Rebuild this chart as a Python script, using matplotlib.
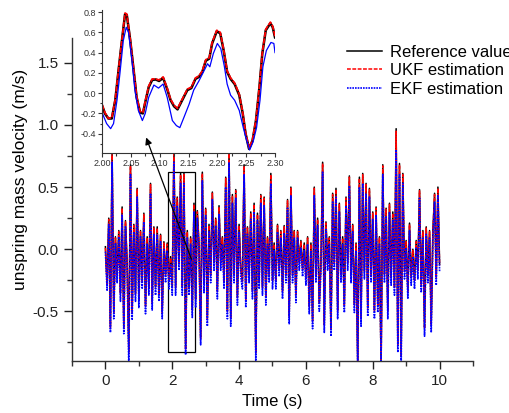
import numpy as np
import matplotlib
matplotlib.use("Agg")
import matplotlib.pyplot as plt
from matplotlib.patches import Rectangle, FancyArrowPatch
from matplotlib.ticker import MultipleLocator, FormatStrFormatter

plt.rcParams['font.family'] = ['Liberation Sans', 'DejaVu Sans']
plt.rcParams['axes.unicode_minus'] = False

# ---- main series (sampled every 0.05 s from 0 to 10 s) ----
ref = [
    0.02, -0.28, 0.25, -0.62, 0.79, -0.50, 0.10, -0.20, 0.15, -0.35,
    0.34, -0.62, 0.23, -0.10, -0.82, 0.68, -0.50, 0.20, -0.35, 0.49,
    -0.40, 0.15, -0.25, 0.29, -0.45, 0.10, -0.30, 0.53, -0.42, 0.18,
    -0.30, 0.18, -0.35, 0.12, -0.50, 0.06, -0.20, 0.05, -0.25, -0.06,
    -0.30, 0.80, -0.30, 0.42, -0.10, 0.61, -0.30, 0.61, -0.80, 0.15,
    -0.30, 0.10, -0.48, 0.37, -0.40, 0.31, 0.05, -0.71, 0.62, -0.28,
    0.33, -0.55, 0.20, -0.20, 0.46, -0.10, 0.25, -0.33, 0.35, -0.10,
    0.10, -0.25, 0.58, -0.49, 0.80, -0.55, 0.44, -0.20, 0.48, -0.38,
    0.20, -0.15, -0.25, 0.68, -0.40, 0.18, -0.20, 0.30, -0.33, 0.37,
    -0.83, 0.29, -0.25, 0.44, -0.30, 0.42, -0.38, 0.10, -0.20, 0.61,
    -0.25, 0.05, -0.25, 0.20, -0.15, 0.15, -0.33, 0.19, -0.20, 0.40,
    -0.53, 0.50, -0.20, 0.15, -0.36, 0.15, -0.10, 0.07, -0.15, 0.05,
    -0.22, 0.10, -0.45, 0.05, -0.57, 0.50, -0.20, 0.25, -0.43, -0.10,
    0.70, -0.60, 0.22, -0.10, 0.10, -0.63, 0.45, -0.10, 0.49, -0.49,
    0.37, -0.20, 0.10, -0.44, 0.42, -0.10, 0.59, -0.20, 0.20, -0.44,
    0.05, -0.90, 0.58, -0.55, 0.61, -0.17, 0.53, -0.47, 0.49, -0.20,
    0.30, -0.49, 0.34, -0.44, 0.10, -0.95, 0.68, -0.20, 0.33, -0.49,
    0.37, -0.22, 0.30, -0.30, 0.97, -0.76, 0.69, -0.85, 0.61, -0.17,
    0.07, -0.33, 0.21, -0.22, 0.00, -0.25, 0.07, -0.17, 0.48, -0.28,
    0.15, -0.63, 0.18, -0.20, 0.15, -0.60, 0.15, 0.45, -0.22, 0.50,
    -0.12]

ukf = [
    0.01, -0.29, 0.24, -0.63, 0.78, -0.51, 0.09, -0.21, 0.14, -0.36,
    0.33, -0.63, 0.22, -0.11, -0.84, 0.67, -0.51, 0.19, -0.36, 0.48,
    -0.41, 0.14, -0.26, 0.28, -0.46, 0.09, -0.31, 0.52, -0.43, 0.17,
    -0.31, 0.17, -0.36, 0.11, -0.51, 0.05, -0.21, 0.04, -0.26, -0.07,
    -0.31, 0.79, -0.31, 0.41, -0.11, 0.60, -0.31, 0.60, -0.81, 0.14,
    -0.31, 0.09, -0.49, 0.36, -0.41, 0.30, 0.04, -0.72, 0.61, -0.29,
    0.32, -0.56, 0.19, -0.21, 0.45, -0.11, 0.24, -0.34, 0.34, -0.11,
    0.09, -0.26, 0.57, -0.50, 0.79, -0.56, 0.43, -0.21, 0.47, -0.39,
    0.19, -0.16, -0.26, 0.67, -0.41, 0.17, -0.21, 0.29, -0.34, 0.36,
    -0.84, 0.28, -0.26, 0.43, -0.31, 0.41, -0.39, 0.09, -0.21, 0.60,
    -0.26, 0.04, -0.26, 0.19, -0.16, 0.14, -0.34, 0.18, -0.21, 0.39,
    -0.54, 0.49, -0.21, 0.14, -0.37, 0.14, -0.11, 0.06, -0.16, 0.04,
    -0.23, 0.09, -0.46, 0.04, -0.58, 0.49, -0.21, 0.24, -0.44, -0.11,
    0.69, -0.61, 0.21, -0.11, 0.09, -0.64, 0.44, -0.11, 0.48, -0.50,
    0.36, -0.21, 0.09, -0.45, 0.41, -0.11, 0.58, -0.21, 0.19, -0.45,
    0.04, -0.91, 0.57, -0.56, 0.60, -0.18, 0.52, -0.48, 0.48, -0.21,
    0.29, -0.50, 0.33, -0.45, 0.09, -0.96, 0.67, -0.21, 0.32, -0.50,
    0.36, -0.23, 0.29, -0.31, 0.95, -0.77, 0.68, -0.86, 0.60, -0.18,
    0.06, -0.34, 0.20, -0.23, -0.01, -0.26, 0.06, -0.18, 0.47, -0.29,
    0.14, -0.64, 0.17, -0.21, 0.14, -0.61, 0.14, 0.44, -0.23, 0.49,
    -0.13]

ekf = [
    -0.02, -0.33, 0.20, -0.67, 0.70, -0.56, 0.05, -0.27, 0.10, -0.42,
    0.28, -0.68, 0.18, -0.17, -0.95, 0.60, -0.57, 0.14, -0.42, 0.42,
    -0.47, 0.10, -0.32, 0.22, -0.52, 0.04, -0.37, 0.45, -0.49, 0.12,
    -0.37, 0.12, -0.42, 0.06, -0.56, 0.00, -0.27, -0.01, -0.32, -0.12,
    -0.37, 0.70, -0.37, 0.35, -0.17, 0.53, -0.37, 0.53, -0.85, 0.09,
    -0.37, 0.04, -0.55, 0.30, -0.47, 0.25, -0.01, -0.77, 0.55, -0.35,
    0.27, -0.62, 0.14, -0.27, 0.40, -0.17, 0.19, -0.40, 0.28, -0.17,
    0.04, -0.32, 0.50, -0.56, 0.70, -0.62, 0.37, -0.27, 0.41, -0.45,
    0.14, -0.22, -0.32, 0.60, -0.47, 0.12, -0.27, 0.24, -0.40, 0.30,
    -0.90, 0.23, -0.32, 0.37, -0.37, 0.35, -0.45, 0.04, -0.27, 0.53,
    -0.32, -0.01, -0.32, 0.14, -0.22, 0.09, -0.40, 0.13, -0.27, 0.33,
    -0.60, 0.43, -0.27, 0.09, -0.43, 0.09, -0.17, 0.01, -0.22, -0.01,
    -0.29, 0.04, -0.52, -0.01, -0.64, 0.43, -0.27, 0.19, -0.50, -0.17,
    0.62, -0.67, 0.16, -0.17, 0.04, -0.70, 0.38, -0.17, 0.42, -0.56,
    0.30, -0.27, 0.04, -0.51, 0.35, -0.17, 0.51, -0.27, 0.14, -0.51,
    -0.01, -0.97, 0.50, -0.62, 0.53, -0.24, 0.45, -0.54, 0.42, -0.27,
    0.24, -0.56, 0.27, -0.51, 0.04, -0.90, 0.60, -0.27, 0.26, -0.56,
    0.30, -0.29, 0.24, -0.37, 0.80, -0.83, 0.60, -0.97, 0.53, -0.24,
    0.01, -0.40, 0.15, -0.29, -0.06, -0.32, 0.01, -0.24, 0.41, -0.35,
    0.09, -0.70, 0.12, -0.27, 0.09, -0.67, 0.09, 0.38, -0.29, 0.43,
    -0.18]

# ---- inset (zoom 2.00 - 2.30 s) ----
ins_t_ref = [2.000, 2.005, 2.011, 2.017, 2.023, 2.028, 2.034, 2.040, 2.043, 2.049,
             2.055, 2.060, 2.066, 2.071, 2.075, 2.081, 2.087, 2.093, 2.099, 2.106,
             2.113, 2.119, 2.125, 2.131, 2.139, 2.148, 2.155, 2.162, 2.168, 2.174,
             2.180, 2.186, 2.191, 2.199, 2.205, 2.211, 2.217, 2.223, 2.230, 2.238,
             2.244, 2.249, 2.255, 2.261, 2.267, 2.273, 2.278, 2.284, 2.292, 2.296,
             2.300]
ins_ref = [-0.12, -0.20, -0.25, -0.25, -0.07, 0.19, 0.49, 0.78, 0.77, 0.52,
           0.22, -0.04, -0.19, -0.20, -0.09, 0.06, 0.13, 0.135, 0.12, 0.15,
           0.04, -0.07, -0.13, -0.16, -0.07, 0.03, 0.05, 0.14, 0.16, 0.21,
           0.32, 0.34, 0.49, 0.61, 0.59, 0.42, 0.21, 0.14, 0.09, -0.02,
           -0.20, -0.40, -0.55, -0.47, -0.27, 0.06, 0.39, 0.62, 0.69, 0.65,
           0.55]
ins_ukf = [-0.11, -0.19, -0.25, -0.24, -0.06, 0.20, 0.50, 0.79, 0.78, 0.53,
           0.23, -0.03, -0.18, -0.19, -0.08, 0.07, 0.14, 0.14, 0.13, 0.16,
           0.05, -0.06, -0.12, -0.15, -0.06, 0.04, 0.06, 0.15, 0.17, 0.22,
           0.33, 0.35, 0.50, 0.62, 0.60, 0.43, 0.22, 0.15, 0.10, -0.01,
           -0.19, -0.39, -0.54, -0.46, -0.26, 0.07, 0.40, 0.63, 0.70, 0.66,
           0.56]
ins_t_ekf = [2.000, 2.008, 2.015, 2.020, 2.026, 2.031, 2.037, 2.042, 2.046, 2.052,
             2.057, 2.063, 2.070, 2.075, 2.081, 2.090, 2.098, 2.106, 2.113, 2.122,
             2.129, 2.135, 2.142, 2.151, 2.159, 2.168, 2.176, 2.183, 2.187, 2.193,
             2.200, 2.206, 2.212, 2.217, 2.223, 2.230, 2.238, 2.245, 2.251, 2.256,
             2.262, 2.268, 2.274, 2.279, 2.285, 2.293, 2.298, 2.300]
ins_ekf = [-0.19, -0.30, -0.35, -0.30, -0.07, 0.19, 0.52, 0.65, 0.60, 0.32,
           0.03, -0.17, -0.27, -0.20, -0.04, 0.08, 0.05, 0.09, -0.04, -0.27,
           -0.32, -0.34, -0.24, -0.11, 0.03, 0.12, 0.21, 0.29, 0.26, 0.39,
           0.49, 0.44, 0.27, 0.09, -0.02, -0.07, -0.17, -0.34, -0.47, -0.56,
           -0.48, -0.34, -0.07, 0.26, 0.42, 0.50, 0.49, 0.40]

labels = ["Reference value", "UKF estimation", "EKF estimation"]

W, H = 510, 413
fig = plt.figure(figsize=(W / 100, H / 100), dpi=100)

ax = fig.add_axes([72 / W, 1 - 361 / H, (473 - 72) / W, (361 - 38) / H])
t_ref = np.linspace(0, 10, len(ref))
t_ukf = np.linspace(0, 10, len(ukf))
t_ekf = np.linspace(0, 10, len(ekf))
l1, = ax.plot(t_ref, ref, color='black', lw=1.1, ls='-')
l2, = ax.plot(t_ukf, ukf, color='red', lw=1.1, ls=(0, (2.5, 1)))
l3, = ax.plot(t_ekf, ekf, color='blue', lw=1.2, ls=(0, (1, 0.6)))

ax.set_xlim(-1, 11)
ax.set_ylim(-0.9, 1.7)
ax.xaxis.set_major_locator(MultipleLocator(2))
ax.xaxis.set_minor_locator(MultipleLocator(1))
ax.yaxis.set_major_locator(MultipleLocator(0.5))
ax.yaxis.set_minor_locator(MultipleLocator(0.25))
ax.yaxis.set_major_formatter(FormatStrFormatter('%.1f'))
for s in ['top', 'right']:
    ax.spines[s].set_visible(False)
for s in ['left', 'bottom']:
    ax.spines[s].set_color('#333333')
    ax.spines[s].set_linewidth(1.0)
ax.tick_params(which='major', direction='out', length=6, width=1.0, labelsize=11,
               colors='#222222')
ax.tick_params(which='minor', direction='out', length=3.5, width=1.0, colors='#333333')
ax.set_xlabel("Time (s)", fontsize=12, labelpad=4)
ax.set_ylabel("unspring mass velocity (m/s)", fontsize=12.5)
ax.yaxis.set_label_coords(-0.11, 0.563)

ax.add_patch(Rectangle((1.86, -0.83), 0.82, 1.45, fill=False, edgecolor='black', lw=0.9))

leg = ax.legend([l1, l2, l3], labels, loc='upper left',
                bbox_to_anchor=(347 / W, 1 - 45 / H), bbox_transform=fig.transFigure,
                frameon=False, fontsize=12, handlelength=2.1, handletextpad=0.45,
                borderpad=0, borderaxespad=0, labelspacing=0.2)

# inset
ins = fig.add_axes([102 / W, 1 - 153 / H, (275 - 102) / W, (153 - 10) / H])
ins.set_facecolor('white')
ins.plot(ins_t_ref, ins_ref, color='black', lw=1.8)
ins.plot(ins_t_ref, ins_ukf, color='red', lw=1.3, ls=(0, (3, 0.6)))
ins.plot(ins_t_ekf, ins_ekf, color='blue', lw=0.9)
ins.set_xlim(2.0, 2.3)
ins.set_ylim(-0.59, 0.82)
ins.xaxis.set_major_locator(MultipleLocator(0.05))
ins.xaxis.set_minor_locator(MultipleLocator(0.025))
ins.yaxis.set_major_locator(MultipleLocator(0.2))
ins.yaxis.set_minor_locator(MultipleLocator(0.1))
ins.xaxis.set_major_formatter(FormatStrFormatter('%.2f'))
ins.yaxis.set_major_formatter(FormatStrFormatter('%.1f'))
for s in ['top', 'right']:
    ins.spines[s].set_visible(False)
for s in ['left', 'bottom']:
    ins.spines[s].set_linewidth(0.8)
    ins.spines[s].set_color('#333333')
ins.tick_params(which='major', direction='out', length=3, width=0.8, labelsize=6.5,
                pad=1.5, colors='#333333')
ins.tick_params(which='minor', direction='out', length=1.8, width=0.8, colors='#333333')

# arrow from the zoom box to the inset, drawn above everything
arrow = FancyArrowPatch((2.60, -0.10), (1.19, 0.92), transform=ax.transData,
                        arrowstyle='-|>', color='black', lw=0.9, mutation_scale=10,
                        zorder=10)
fig.add_artist(arrow)

fig.savefig("out.png", dpi=100)
